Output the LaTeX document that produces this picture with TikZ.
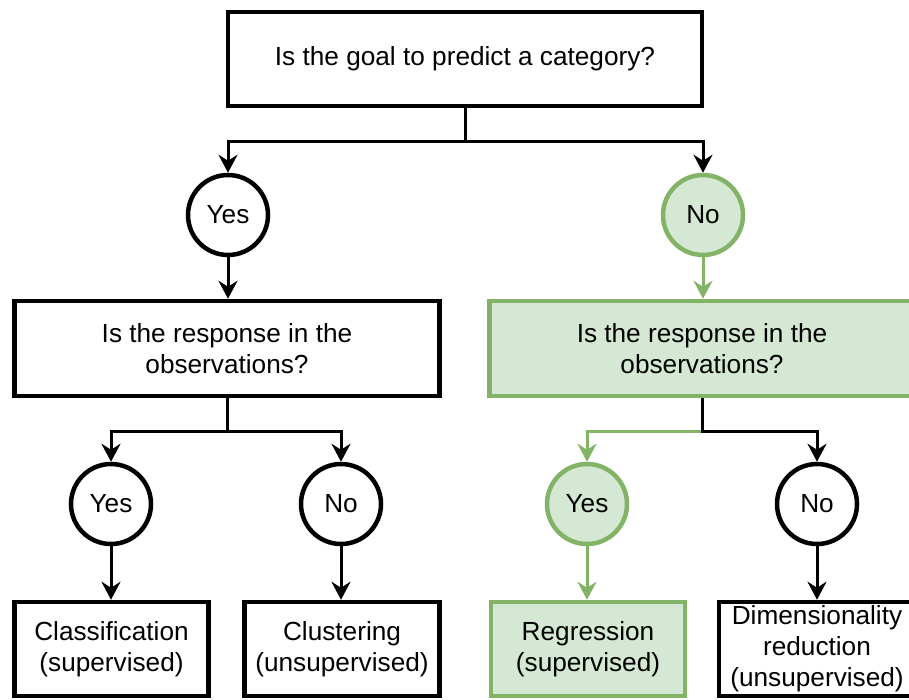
\documentclass[tikz,border=0pt]{standalone}
\usepackage{fontspec}
\setmainfont{Liberation Sans}
\usetikzlibrary{arrows.meta}
\definecolor{grnline}{HTML}{82B366}
\definecolor{grnfill}{HTML}{D5E8D4}
\begin{document}
\begin{tikzpicture}[x=1pt,y=-1pt,
    box/.style={draw,line width=4.5pt,align=center,inner sep=0pt,minimum height=95pt,font=\fontsize{26.2}{31}\selectfont},
    choice/.style={draw,circle,line width=4.5pt,inner sep=0pt,minimum size=80pt,font=\fontsize{26.2}{31}\selectfont},
    picked/.style={draw=grnline,fill=grnfill},
    conn/.style={line width=3pt,-{Stealth[length=18pt,width=19pt,inset=6pt]}}]
     \useasboundingbox (0,0) rectangle (909,699);
     \node[box,minimum width=474pt,minimum height=94pt] (goal) at (465,59) {Is the goal to predict a category?};
     \node[choice] (yes1) at (228,215) {Yes};
     \node[choice,picked] (no1) at (703,215) {No};
     \node[box,minimum width=425pt] (resp1) at (227,348.5) {Is the response in the\\observations?};
     \node[box,picked,minimum width=425pt] (resp2) at (702,348.5) {Is the response in the\\observations?};
     \node[choice] (yes2) at (111,504) {Yes};
     \node[choice] (no2) at (341,504) {No};
     \node[choice,picked] (yes3) at (587,504) {Yes};
     \node[choice] (no3) at (817,504) {No};
     \node[box,minimum width=194pt,minimum height=94pt] (classif) at (111.5,649) {Classification\\(supervised)};
     \node[box,minimum width=195pt,minimum height=94pt] (clust) at (342,649) {Clustering\\(unsupervised)};
     \node[box,picked,minimum width=194pt,minimum height=94pt] (regr) at (588,649) {Regression\\(supervised)};
     \node[box,minimum width=196pt,minimum height=94pt] (dimred) at (817,649) {Dimensionality\\reduction\\(unsupervised)};
     \coordinate (split1) at (465,141);
     \coordinate (split2) at (227,431);
     \coordinate (split3) at (702,431);
     \draw[conn] (goal.south) -- (split1) -| (yes1.north);
     \draw[conn] (split1) -| (no1.north);
     \draw[conn] (yes1) -- (yes1 |- resp1.north);
     \draw[conn,grnline] (no1) -- (no1 |- resp2.north);
     \draw[conn] (resp1.south) -- (split2) -| (yes2.north);
     \draw[conn] (split2) -| (no2.north);
     \draw[conn,grnline] (resp2.south) -- (split3) -| (yes3.north);
     \draw[conn] (resp2.south) -- (split3) -| (no3.north);
     \draw[conn] (yes2) -- (yes2 |- classif.north);
     \draw[conn] (no2) -- (no2 |- clust.north);
     \draw[conn,grnline] (yes3) -- (yes3 |- regr.north);
     \draw[conn] (no3) -- (no3 |- dimred.north);
    \end{tikzpicture}
\end{document}
